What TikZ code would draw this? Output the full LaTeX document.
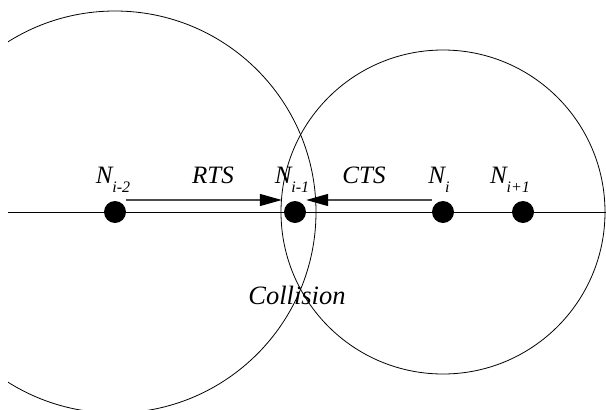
\documentclass[tikz,border=0pt]{standalone}
\usepackage{fontspec}
\setmainfont{Liberation Serif}
\usetikzlibrary{arrows.meta,positioning}
\newcommand{\nsub}[1]{\raisebox{-9pt}{\fontsize{16}{16}\selectfont #1}}
\tikzset{
  nd/.style = {circle, fill=black, minimum size=22pt, inner sep=0pt},
  lbl/.style = {font=\fontsize{25}{28}\selectfont\itshape, inner sep=0pt, anchor=base},
  msg/.style = {draw=black!70, line width=1.3pt, -{Triangle[length=22pt,width=12pt,color=black]}},
  txrange/.style = {line width=0.8pt}
}

\begin{document}
\begin{tikzpicture}[x=1pt,y=-1pt]
    \useasboundingbox (0,0) rectangle (606,410);
    % base line and nodes
    \coordinate (lend) at (8,212);
    \coordinate (rend) at (606,212);
    \draw[line width=1pt] (lend) -- (rend);
    \node[nd] (n1) at (115,212) {};
    \node[nd] (n2) at (295,212) {};
    \node[nd] (n3) at (443,212) {};
    \node[nd] (n4) at (523,212) {};
    % transmission ranges
    \begin{scope}
        \clip (8,0) rectangle (606,410);
        \draw[txrange] (n1.center) circle (201);
        \draw[txrange] (n3.center) circle (162);
    \end{scope}
    % labels
    \node[lbl] (l1) at (113,183) {N\nsub{i-2}};
    \node[lbl] (l2) at (292,183) {N\nsub{i-1}};
    \node[lbl] (l3) at (439,183) {N\nsub{i}};
    \node[lbl] (l4) at (510,183) {N\nsub{i+1}};
    \node[lbl] (rts) at (213,183) {RTS};
    \node[lbl] (cts) at (364,183) {CTS};
    \node[lbl, font=\fontsize{26.5}{30}\selectfont\itshape] (col) at (297,304) {Collision};
    % messages
    \draw[msg] ([yshift=12pt]n1.east) -- ([xshift=-2pt,yshift=12pt]n2.west);
    \draw[msg] ([yshift=12pt]n3.west) -- ([yshift=12pt]n2.east);
\end{tikzpicture}
\end{document}
